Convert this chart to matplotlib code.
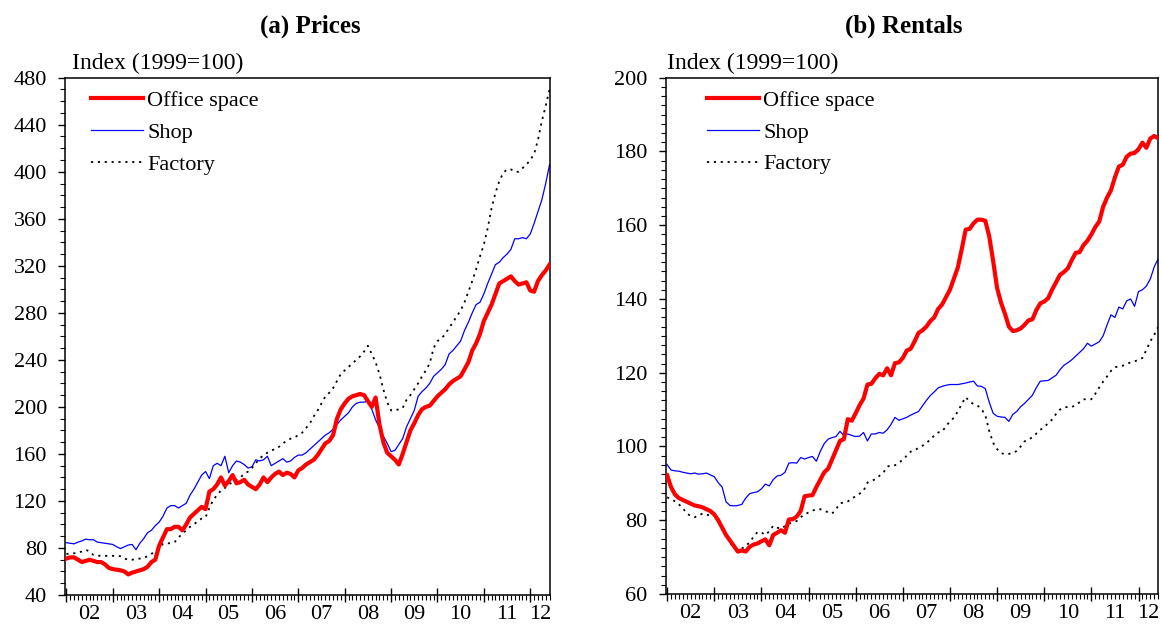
import matplotlib
matplotlib.use('Agg')
import matplotlib.pyplot as plt
from matplotlib.ticker import MultipleLocator
import numpy as np

plt.rcParams['font.family'] = ['Liberation Serif', 'DejaVu Serif']

# monthly index, Jan 2002 - Jun 2012 (1999=100)
MONTHS = 2002 + np.arange(126) / 12.0
YEAR_LABELS = ['02', '03', '04', '05', '06', '07', '08', '09', '10', '11', '12']
SERIES = ['Office space', 'Shop', 'Factory']

price_office = [
    71, 72, 72, 70, 68, 69, 70, 69, 68, 68, 66, 63,
    62, 61.5, 61, 60, 57.5, 59, 60, 61, 62, 64, 68, 70,
    82, 89, 96, 96, 98, 98, 95, 100, 106, 109, 112, 115,
    113, 128, 130, 134, 140, 133, 137, 142, 135, 136, 138, 134,
    132, 130, 134, 140, 136, 140, 143, 145, 142, 144, 143, 140,
    146, 148, 151, 153, 155, 159, 164, 169, 171, 176, 190, 198,
    203, 207, 209, 210, 211, 210, 205, 200, 208, 185, 170, 161,
    158, 155, 151, 160, 170, 180, 186, 193, 198, 200, 201, 205,
    209, 212, 215, 219, 222, 224, 226, 232, 238, 248, 254, 262,
    273, 280, 287, 296, 305, 307, 309, 311, 307, 304, 305, 306,
    299, 298, 307, 312, 316, 321]
price_shop = [
    84.5, 84, 83.5, 85, 86, 87.5, 87, 87, 85, 84.5, 84, 83.5,
    83, 81, 79.5, 81, 82.5, 83, 78.5, 84, 88, 93, 95, 99,
    102, 107, 114, 116, 116, 114, 116, 118, 125, 130, 136, 142,
    145, 139, 150, 152, 150, 158, 144, 150, 154, 153, 151, 148,
    149, 155, 154, 155, 158, 150, 152, 154, 156, 153, 154, 157,
    159, 159, 161, 164, 167, 170, 173, 176, 178, 181, 185, 189,
    192, 195, 200, 203, 204, 204, 205, 198, 189, 182, 175, 169,
    162, 163, 168, 173, 183, 190, 197, 209, 213, 216, 220, 226,
    229, 232, 236, 245, 248, 252, 256, 265, 272, 280, 287, 289,
    296, 305, 313, 321, 323, 327, 330, 334, 343, 343, 344, 343,
    347, 356, 366, 376, 390, 406]
price_factory = [
    75, 75, 75.5, 76, 77, 78.5, 77, 74, 73.5, 73.3, 73.3, 73.3,
    73.3, 73.3, 73, 71, 70, 70, 70.5, 71, 71.5, 73, 75, 77,
    80, 83.5, 84, 84, 85, 89, 92, 95, 98, 100, 103, 105,
    106, 114, 121, 125, 129, 131, 134, 136, 138, 140, 143, 145,
    148, 152, 156, 159, 161, 163, 164, 166, 169, 171, 173, 174,
    176, 178, 182, 186, 192, 197, 203, 209, 212, 216, 222, 228,
    231, 234, 237, 240, 243, 247, 252, 245, 238, 228, 215, 204,
    197, 197, 198, 199, 206, 210, 215, 220, 226, 231, 237, 250,
    256, 258, 262, 267, 272, 277, 282, 289, 298, 307, 317, 328,
    338, 352, 369, 382, 392, 399, 402, 402, 400, 400, 403, 406,
    410, 415, 427, 443, 456, 470]

rent_office = [
    92.2, 89, 87, 86, 85.5, 85, 84.5, 84, 83.8, 83.5, 83, 82.5,
    81.6, 80, 78, 76, 74.5, 73, 71.5, 71.8, 71.5, 72.8, 73.4, 73.7,
    74.3, 74.8, 73.2, 76, 76.6, 77.3, 76.6, 80.2, 80.3, 81, 82.5, 86.5,
    86.7, 86.8, 89, 91, 93, 94, 96.5, 99, 101.5, 102, 107.4, 107,
    109, 111.2, 113, 116.8, 117, 118.5, 119.7, 119.3, 121.2, 119.3, 122.6, 122.8,
    124, 126, 126.5, 128.5, 130.8, 131.5, 132.5, 134, 135, 137.3, 138.5, 140.5,
    142.5, 145.5, 148.5, 153.5, 158.8, 159, 160.5, 161.5, 161.5, 161.2, 157, 150.3,
    143, 139, 136, 132.5, 131.3, 131.5, 132, 133, 134.2, 134.5, 137, 138.8,
    139.3, 140.2, 142.5, 144.5, 146.5, 147.3, 148.3, 150.5, 152.5, 152.7, 154.6, 155.8,
    157.5, 159.5, 161, 165, 167.5, 169.5, 173, 175.9, 176.4, 178.6, 179.4, 179.6,
    180.6, 182.4, 181, 183.5, 184.2, 183.6]
rent_shop = [
    95.1, 93.6, 93.4, 93.3, 93, 92.8, 92.6, 92.8, 92.5, 92.6, 92.8, 92.3,
    91.8, 90.2, 89, 85, 84, 83.9, 84, 84.3, 86, 87.2, 87.5, 87.7,
    88.5, 89.8, 89.3, 91, 92, 92.2, 93, 95.5, 95.6, 95.5, 97, 96.6,
    97, 97.3, 96, 98.7, 100.8, 102, 102.4, 102.7, 104.1, 103, 103.4, 103,
    102.7, 102.8, 103.8, 101.5, 103.4, 103.4, 103.8, 103.6, 104.5, 106, 107.9, 107.1,
    107.5, 107.9, 108.5, 109, 109.5, 111, 112.5, 113.8, 114.8, 115.9, 116.3, 116.6,
    116.8, 116.8, 116.8, 117, 117.2, 117.5, 117.7, 116.4, 116.3, 115.7, 112, 109,
    108.2, 108, 107.9, 106.8, 108.7, 109.5, 110.8, 111.7, 112.8, 113.9, 116, 117.7,
    117.8, 117.9, 118.6, 119.3, 120.8, 122, 122.7, 123.5, 124.5, 125.5, 126.5, 128,
    127.2, 127.8, 128.4, 130, 133, 135.7, 135, 137.8, 137.3, 139.5, 140, 138,
    142, 142.5, 143.5, 145.4, 148.7, 150.9]
rent_factory = [
    86.2, 85.8, 85.1, 84.3, 83.3, 81.8, 81.2, 80.8, 81.3, 81.8, 81.5, 81.3,
    81.6, 80.5, 78.5, 76.4, 74, 72.5, 72.1, 72.3, 73, 74, 75.5, 76.8,
    76.7, 76, 77, 78.5, 78, 77.7, 78.4, 79.1, 79.4, 79.8, 80.8, 81.6,
    82.1, 82.6, 83, 83, 82.5, 82.2, 81.8, 83, 84.6, 84.8, 85.1, 85.9,
    86.5, 87.2, 88, 90.2, 90.7, 91.1, 92, 92.8, 94.5, 94.9, 94.9, 95.6,
    96.4, 97.5, 98.6, 99, 99.6, 100.2, 101, 101.8, 103, 103.8, 104, 105.5,
    106.8, 107.8, 109.5, 111.5, 113.4, 112.2, 111.5, 111.1, 110.2, 108.5, 104.2, 101,
    99.3, 98.2, 97.9, 98, 98.2, 98.8, 100, 101.4, 101.9, 102.5, 103.5, 104.5,
    105.3, 106.3, 107.3, 108.8, 110, 110.6, 110.7, 110.7, 111.2, 112, 112.8, 112.8,
    112.8, 114.3, 116, 117.6, 119, 120.5, 121.5, 121.7, 121.9, 122.4, 122.8, 123.1,
    123.5, 124, 126.2, 128.5, 130.3, 132.4]

XLIM = (2001.97, 2012.42)


def draw_panel(ax, office, shop, factory, ylim, ystep, yminor, legend_x):
    ax.plot(MONTHS, office, color='#ff0000', lw=3.0, label=SERIES[0],
            solid_joinstyle='round', zorder=3)
    ax.plot(MONTHS, shop, color='#0000ff', lw=0.9, label=SERIES[1], zorder=2)
    ax.plot(MONTHS, factory, color='black', lw=1.3, linestyle=(0, (1.2, 2.6)),
            label=SERIES[2], zorder=2)

    ax.set_xlim(*XLIM)
    ax.set_ylim(*ylim)

    # year boundaries as major ticks, months as minor ticks
    years = np.arange(2002, 2013)
    ax.set_xticks(years)
    ax.set_xticklabels([])
    ax.xaxis.set_minor_locator(MultipleLocator(1 / 12))
    ax.tick_params(axis='x', which='major', direction='inout', length=10, width=1)
    ax.tick_params(axis='x', which='minor', direction='out', length=3.5, width=0.8)
    mids = [y + 0.5 for y in years[:-1]] + [(years[-1] + XLIM[1]) / 2]
    for xm, lab in zip(mids, YEAR_LABELS):
        ax.text(xm, -0.02, lab, transform=ax.get_xaxis_transform(),
                ha='center', va='top', fontsize=16)

    ax.set_yticks(np.arange(ylim[0], ylim[1] + 1, ystep))
    ax.yaxis.set_minor_locator(MultipleLocator(yminor))
    ax.tick_params(axis='y', which='major', direction='out', length=5, width=1,
                   labelsize=16, pad=8)
    ax.tick_params(axis='y', which='minor', direction='out', length=3.5, width=0.8)
    ax.tick_params(top=False, right=False)
    for s in ax.spines.values():
        s.set_linewidth(1.1)

    ax.legend(loc='upper left', bbox_to_anchor=(legend_x, 0.975), frameon=False,
              fontsize=16, handlelength=2.35, handletextpad=0.2,
              labelspacing=0.5, borderpad=0, borderaxespad=0)


fig = plt.figure(figsize=(11.61, 6.28), dpi=100)
ax1 = fig.add_axes([65 / 1161, 33 / 628, 484.7 / 1161, 517.3 / 628])
ax2 = fig.add_axes([665.7 / 1161, 34 / 628, 492.6 / 1161, 516.3 / 628])

draw_panel(ax1, price_office, price_shop, price_factory, (40, 480), 40, 10, 0.053)
draw_panel(ax2, rent_office, rent_shop, rent_factory, (60, 200), 20, 2.5, 0.083)

fig.text(310 / 1161, 1 - 26 / 628, '(a) Prices', ha='center', va='center',
         fontsize=18, fontweight='bold')
fig.text(904 / 1161, 1 - 26 / 628, '(b) Rentals', ha='center', va='center',
         fontsize=18, fontweight='bold')
fig.text(72 / 1161, 1 - 63 / 628, 'Index (1999=100)', ha='left', va='center',
         fontsize=17)
fig.text(667 / 1161, 1 - 63 / 628, 'Index (1999=100)', ha='left', va='center',
         fontsize=17)

fig.savefig('out.png', dpi=100)
